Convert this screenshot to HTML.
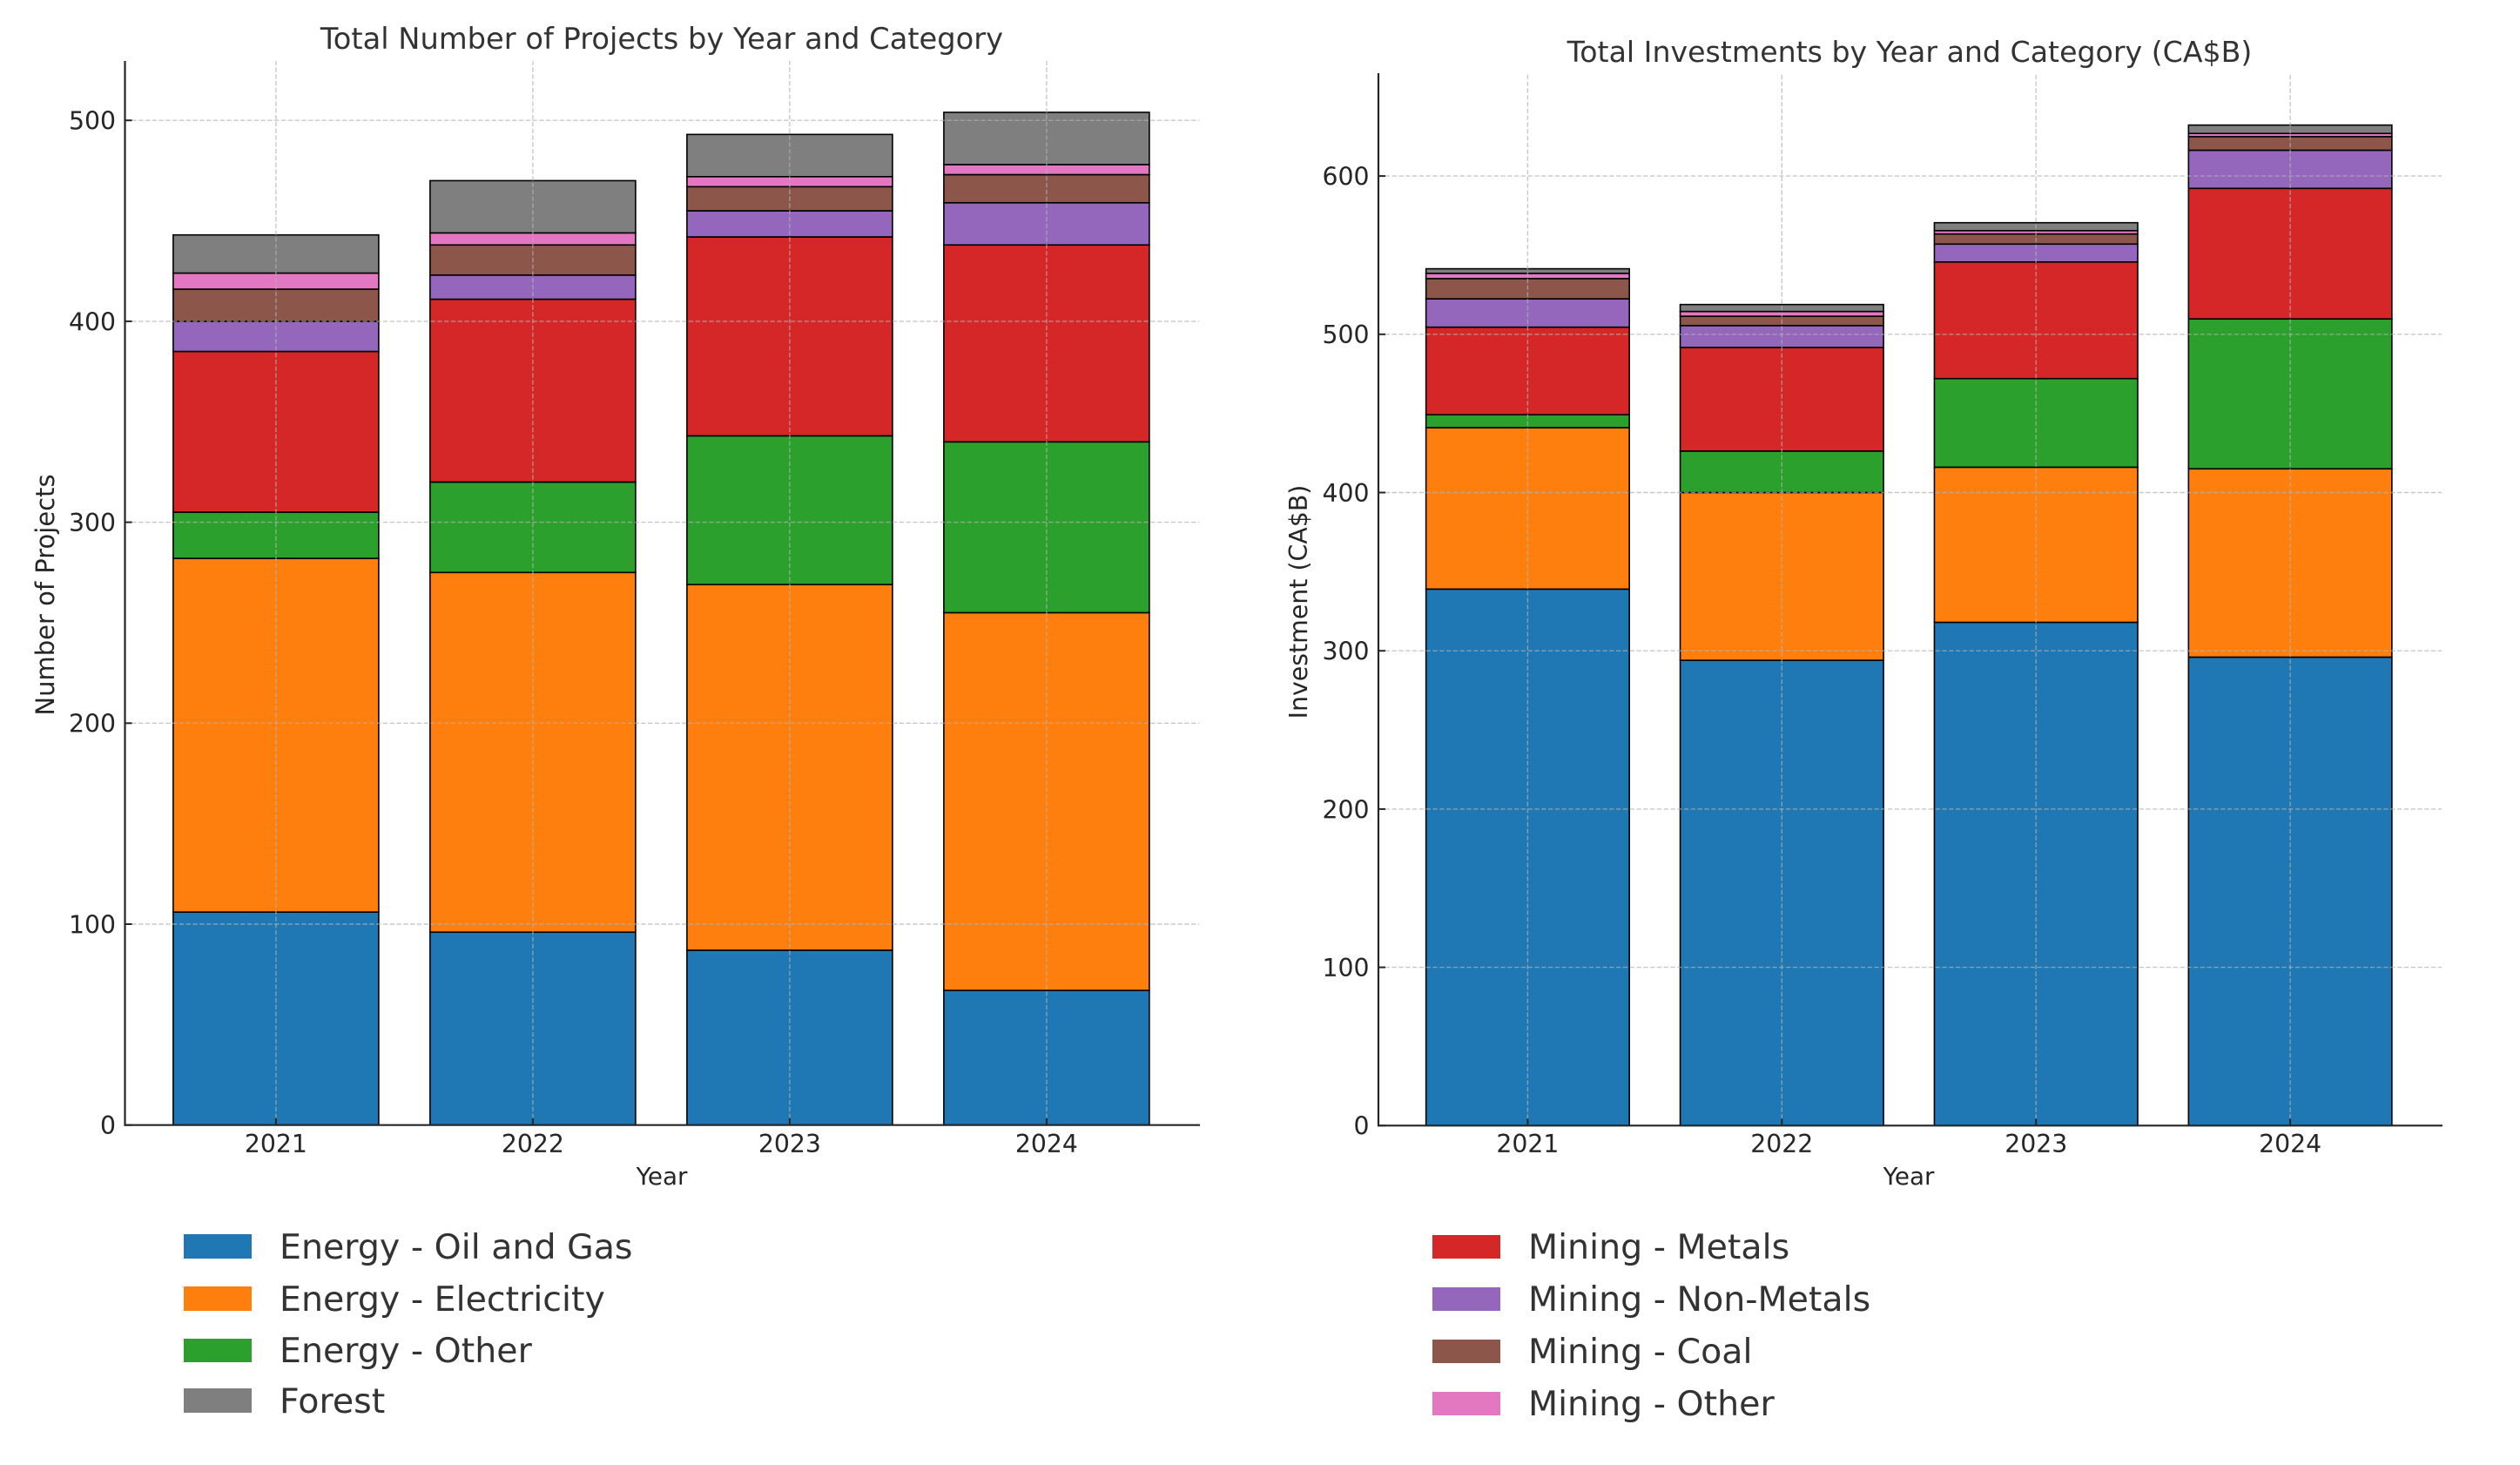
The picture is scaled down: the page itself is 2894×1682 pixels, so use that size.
<!DOCTYPE html>
<html lang="en">
<head>
<meta charset="utf-8">
<title>Projects and Investments by Year and Category</title>
<style>
  html, body { margin: 0; padding: 0; background: #ffffff; }
  #figure { display: block; width: 2894px; height: 1682px; font-family: "DejaVu Sans", "Liberation Sans", sans-serif; }
  .tick-label { font-size: 28.3px; fill: #262626; }
  .axis-label { font-size: 27.8px; fill: #262626; }
  .y-label-left { font-size: 29px; }
  .y-label-right { font-size: 28.4px; }
  .chart-title { font-size: 33.7px; fill: #333333; }
  .chart-title-right { font-size: 33.2px; }
  .legend-label { font-size: 39.5px; fill: #333333; }
</style>
</head>
<body>
<svg id="figure" xmlns="http://www.w3.org/2000/svg" width="2894" height="1682" viewBox="0 0 2894 1682">
  <rect width="2894" height="1682" fill="#ffffff"/>

  <g id="projects-chart">
    <g id="projects-bars"></g>
    <g id="projects-grid"></g>
    <g id="projects-axes"></g>
    <text class="chart-title" x="760" y="56" text-anchor="middle">Total Number of Projects by Year and Category</text>
    <text class="axis-label" x="760" y="1360" text-anchor="middle">Year</text>
    <text class="axis-label y-label-left" transform="translate(62 683) rotate(-90)" text-anchor="middle">Number of Projects</text>
  </g>

  <g id="investments-chart">
    <g id="investments-bars"></g>
    <g id="investments-grid"></g>
    <g id="investments-axes"></g>
    <text class="chart-title chart-title-right" x="2193" y="71" text-anchor="middle">Total Investments by Year and Category (CA$B)</text>
    <text class="axis-label" x="2192" y="1360" text-anchor="middle">Year</text>
    <text class="axis-label y-label-right" transform="translate(1501 691) rotate(-90)" text-anchor="middle">Investment (CA$B)</text>
  </g>

  <g id="legend-left">
    <g>
      <rect x="211" y="1417" width="78" height="28" fill="#1f77b4"/>
      <text class="legend-label" x="321" y="1445">Energy - Oil and Gas</text>
    </g>
    <g>
      <rect x="211" y="1477" width="78" height="28" fill="#ff7f0e"/>
      <text class="legend-label" x="321" y="1505">Energy - Electricity</text>
    </g>
    <g>
      <rect x="211" y="1537" width="78" height="27" fill="#2ca02c"/>
      <text class="legend-label" x="321" y="1564">Energy - Other</text>
    </g>
    <g>
      <rect x="211" y="1594" width="78" height="28" fill="#7f7f7f"/>
      <text class="legend-label" x="321" y="1622">Forest</text>
    </g>
  </g>

  <g id="legend-right">
    <g>
      <rect x="1645" y="1418" width="78" height="27" fill="#d62728"/>
      <text class="legend-label" x="1755" y="1445">Mining - Metals</text>
    </g>
    <g>
      <rect x="1645" y="1478" width="78" height="27" fill="#9467bd"/>
      <text class="legend-label" x="1755" y="1505">Mining - Non-Metals</text>
    </g>
    <g>
      <rect x="1645" y="1538" width="78" height="27" fill="#8c564b"/>
      <text class="legend-label" x="1755" y="1565">Mining - Coal</text>
    </g>
    <g>
      <rect x="1645" y="1598" width="78" height="27" fill="#e377c2"/>
      <text class="legend-label" x="1755" y="1625">Mining - Other</text>
    </g>
  </g>
</svg>

<script>
// Shared categories
const years = ['2021', '2022', '2023', '2024'];
const seriesSlugs = ['energy-oil-and-gas', 'energy-electricity', 'energy-other', 'mining-metals', 'mining-non-metals', 'mining-coal', 'mining-other', 'forest'];
const seriesColors = ['#1f77b4', '#ff7f0e', '#2ca02c', '#d62728', '#9467bd', '#8c564b', '#e377c2', '#7f7f7f'];

// Number of projects
const projectsOilGas = [106, 96, 87, 67];
const projectsElectricity = [176, 179, 182, 188];
const projectsEnergyOther = [23, 45, 74, 85];
const projectsMetals = [80, 91, 99, 98];
const projectsNonMetals = [15, 12, 13, 21];
const projectsCoal = [16, 15, 12, 14];
const projectsMiningOther = [8, 6, 5, 5];
const projectsForest = [19, 26, 21, 26];
const projectsTicks = [0, 100, 200, 300, 400, 500];

// Investments (CA$B)
const investOilGas = [339, 294, 318, 296];
const investElectricity = [102, 106, 98, 119];
const investEnergyOther = [8.2, 26.2, 56, 94.7];
const investMetals = [55.3, 65.5, 73.7, 82.5];
const investNonMetals = [17.9, 13.8, 11.3, 24.1];
const investCoal = [12.8, 5.9, 6.4, 8.6];
const investMiningOther = [3.3, 3, 2.1, 2];
const investForest = [2.9, 4.4, 5, 5.3];
const investTicks = [0, 100, 200, 300, 400, 500, 600];

const SVG_NS = 'http://www.w3.org/2000/svg';

function make(tag, parent, props) {
  const el = document.createElementNS(SVG_NS, tag);
  for (const key in props) {
    el.setAttribute(key, props[key]);
  }
  parent.appendChild(el);
  return el;
}

function drawChart(prefix, series, ticks, layout) {
  const barsGroup = document.getElementById(prefix + '-bars');
  const gridGroup = document.getElementById(prefix + '-grid');
  const axesGroup = document.getElementById(prefix + '-axes');

  const xScale = function (index) { return layout.x0 + index * layout.step; };
  const yScale = function (value) { return layout.baseY - value * layout.unit; };
  const barWidth = layout.step * 0.8;

  // Stacked bars
  years.forEach(function (year, yearIndex) {
    let running = 0;
    series.forEach(function (values, seriesIndex) {
      const value = values[yearIndex];
      const top = yScale(running + value);
      const bottom = yScale(running);
      const bar = make('rect', barsGroup, {
        x: xScale(yearIndex) - barWidth / 2,
        y: top,
        width: barWidth,
        height: Math.max(bottom - top, 0),
        fill: seriesColors[seriesIndex],
        stroke: '#000000',
        'stroke-width': 1.6
      });
      
      
      running += value;
    });
  });

  // Grid lines drawn over the bars
  ticks.forEach(function (tick) {
    if (tick === 0) { return; }
    const line = make('line', gridGroup, {
      x1: layout.left,
      x2: layout.right,
      y1: yScale(tick),
      y2: yScale(tick),
      stroke: '#b0b0b0',
      'stroke-opacity': 0.7,
      'stroke-width': 1.4,
      'stroke-dasharray': '5.3 2.5'
    });
    
    
  });
  years.forEach(function (year, yearIndex) {
    const line = make('line', gridGroup, {
      x1: xScale(yearIndex),
      x2: xScale(yearIndex),
      y1: layout.baseY,
      y2: layout.top,
      stroke: '#b0b0b0',
      'stroke-opacity': 0.7,
      'stroke-width': 1.4,
      'stroke-dasharray': '5.3 2.5'
    });
    
    
  });

  // Y ticks and labels
  ticks.forEach(function (tick) {
    const y = yScale(tick);
    const mark = make('line', axesGroup, {
      x1: layout.left,
      x2: layout.left + 8,
      y1: y,
      y2: y,
      stroke: '#262626',
      'stroke-width': 2
    });
    
    
    const label = make('text', axesGroup, {
      class: 'tick-label',
      x: layout.left - 10.5,
      y: y + 10.4,
      'text-anchor': 'end'
    });
    label.textContent = String(tick);
    
    
  });

  // X ticks and labels
  years.forEach(function (year, yearIndex) {
    const x = xScale(yearIndex);
    const mark = make('line', axesGroup, {
      x1: x,
      x2: x,
      y1: layout.baseY,
      y2: layout.baseY - 8,
      stroke: '#262626',
      'stroke-width': 2
    });
    
    
    const label = make('text', axesGroup, {
      class: 'tick-label',
      x: x,
      y: 1323,
      'text-anchor': 'middle'
    });
    label.textContent = year;
    
    
  });

  // Spines
  const leftSpine = make('line', axesGroup, {
    x1: layout.left,
    x2: layout.left,
    y1: layout.top,
    y2: layout.baseY + 1,
    stroke: '#262626',
    'stroke-width': 2.2
  });
  
  
  const bottomSpine = make('line', axesGroup, {
    x1: layout.left - 1,
    x2: layout.right + 1,
    y1: layout.baseY,
    y2: layout.baseY,
    stroke: '#262626',
    'stroke-width': 2.2
  });
  
  
}

drawChart('projects',
  [projectsOilGas, projectsElectricity, projectsEnergyOther, projectsMetals, projectsNonMetals, projectsCoal, projectsMiningOther, projectsForest],
  projectsTicks,
  { left: 143.5, right: 1377, top: 70, baseY: 1291.7, unit: 2.307, x0: 316.9, step: 295 });

drawChart('investments',
  [investOilGas, investElectricity, investEnergyOther, investMetals, investNonMetals, investCoal, investMiningOther, investForest],
  investTicks,
  { left: 1583, right: 2804, top: 84, baseY: 1292.3, unit: 1.817, x0: 1754.4, step: 291.9 });
</script>
</body>
</html>
